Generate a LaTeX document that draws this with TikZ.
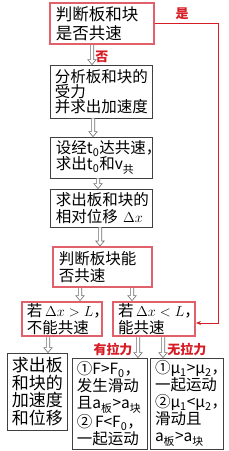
\documentclass[tikz,border=0pt]{standalone}
\usepackage{fontspec}
\setmainfont{Noto Sans CJK SC}
\usetikzlibrary{arrows.meta,calc}
\definecolor{boxred}{RGB}{226,96,106}
\definecolor{txtred}{RGB}{214,28,36}
\definecolor{arrgray}{RGB}{110,110,110}

\begin{document}
\begin{tikzpicture}[x=1pt,y=-1pt,line cap=round,
  box/.style={draw=black!75,line width=0.8pt,inner xsep=6pt,inner ysep=2pt,align=left,
    font=\fontsize{15.5}{16.5}\selectfont},
  redbox/.style={box,draw=boxred,line width=2pt},
  lbl/.style={text=txtred,font=\fontsize{13}{13}\selectfont\bfseries,inner sep=0pt},
  hol/.style={draw=arrgray,line width=0.6pt,fill=white,
    to path={let \p1=(\tikztostart),\p2=(\tikztotarget) in
      (\x1-1.7pt,\y1) -- (\x1-1.7pt,\y2+5pt) -- (\x1-4.2pt,\y2+5pt) -- (\x1,\y2)
      -- (\x1+4.2pt,\y2+5pt) -- (\x1+1.7pt,\y2+5pt) -- (\x1+1.7pt,\y1)}}]
  \useasboundingbox (0,0) rectangle (229,451);
  % main column
  \node[redbox,text width=92pt,minimum height=41pt,font=\fontsize{16.5}{19}\selectfont] (b1) at (102,23.5) {判断板和块\\是否共速};
  \node[box,text width=92pt,minimum height=53pt,inner xsep=5pt,font=\fontsize{15.5}{15}\selectfont] (b2) at (101,91.5) {分析板和块的\\受力\\并求出加速度};
  \node[box,text width=90pt,minimum height=41pt] (b3) at (101,157.5) {设经t\textsubscript{0}达共速，\\求出t\textsubscript{0}和v\textsubscript{共}};
  \node[box,text width=90pt,minimum height=38pt] (b4) at (101,208) {求出板和块的\\相对位移 $\Delta x$};
  \node[redbox,text width=87pt,minimum height=40pt] (b5) at (102.5,267) {判断板块能\\否共速};
  \node[redbox,text width=70pt,minimum height=34pt,inner xsep=5pt] (b6) at (62,319) {\mbox{若\,$\Delta x>L$，}\\不能共速};
  \node[redbox,text width=72pt,minimum height=34pt,inner xsep=5pt] (b7) at (154,319) {\mbox{若\,$\Delta x<L$，}\\能共速};
  % bottom row
  \node[box,text width=50pt,minimum height=77pt,inner xsep=5pt,font=\fontsize{17}{17.5}\selectfont] (b8) at (37,391.5) {求出板\\和块的\\加速度\\和位移};
  \node[box,text width=65pt,minimum height=91pt,inner xsep=5pt,inner ysep=1pt,font=\fontsize{15.5}{17}\selectfont] (b9) at (109.5,403.5) {\mbox{①F>F\textsubscript{0}，}\\发生滑动\\\mbox{且a\textsubscript{板}>a\textsubscript{块}}\\\mbox{②\,F<F\textsubscript{0}，}\\一起运动};
  \node[box,text width=63pt,minimum height=91pt,inner xsep=5pt,inner ysep=1pt,font=\fontsize{15.5}{17}\selectfont] (b10) at (186.5,403.5) {\mbox{①μ\textsubscript{1}>μ\textsubscript{2}，}\\一起运动\\\mbox{②μ\textsubscript{1}<μ\textsubscript{2}，}\\滑动且\\\mbox{a\textsubscript{板}>a\textsubscript{块}}};
  % hollow arrows
  \draw[hol] ([xshift=-10pt]b1.south) to ([xshift=-10pt]b1.south |- b2.north);
  \draw[hol] ([xshift=-8pt]b2.south) to ([xshift=-8pt]b2.south |- b3.north);
  \draw[hol] ([xshift=-3pt]b3.south) to ([xshift=-3pt]b3.south |- b4.north);
  \draw[hol] ([xshift=-1pt]b4.south) to ([xshift=-1pt]b4.south |- b5.north);
  \draw[hol] ([xshift=-22.5pt]b5.south) to ([xshift=-22.5pt]b5.south |- b6.north);
  \draw[hol] ([xshift=29.5pt]b5.south) to ([xshift=29.5pt]b5.south |- b7.north);
  \draw[hol] ([xshift=-14pt]b6.south) to ([xshift=-14pt]b6.south |- b8.north);
  \draw[hol] ([xshift=-16pt]b7.south) to ([xshift=-16pt]b7.south |- b9.north);
  \draw[hol] ([xshift=9pt]b7.south) to ([xshift=9pt]b7.south |- b10.north);
  % red branch
  \draw[txtred,line width=0.9pt,-{Stealth[length=5pt,width=4pt]}] (b1.east) -- ++(63,0) |- ([yshift=-4pt]b7.east);
  \node[lbl] (yes) at (182,14) {是};
  \node[lbl] (no) at (102,57) {否};
  \node[lbl] (pull) at (113,349) {有拉力};
  \node[lbl] (nopull) at (187,349) {无拉力};
\end{tikzpicture}
\end{document}
